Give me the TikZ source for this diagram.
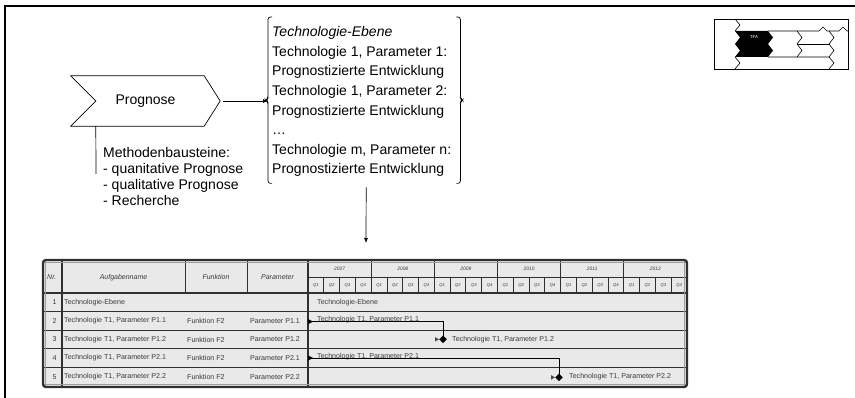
\documentclass[tikz,border=0pt]{standalone}
\usepackage{fontspec}
\setmainfont{Liberation Sans}
\usetikzlibrary{arrows.meta}
\definecolor{tablefill}{HTML}{E9E9E9}
\definecolor{rule}{HTML}{303030}
\definecolor{ink}{HTML}{3A3A3A}

\begin{document}
\begin{tikzpicture}[x=1pt,y=-1pt,
  big/.style={inner sep=0, font=\fontsize{14}{16}\selectfont},
  cell/.style={inner sep=0, text=ink, font=\fontsize{7.1}{8}\selectfont},
  headcell/.style={inner sep=0, text=ink, font=\fontsize{7}{8}\selectfont\itshape},
  yearcell/.style={inner sep=0, text=ink, font=\fontsize{4.9}{6}\selectfont\itshape},
  qcell/.style={inner sep=0, text=ink, font=\fontsize{4.2}{5}\selectfont\itshape},
  gridline/.style={draw=rule, line width=0.9},
  rowline/.style={draw=rule, line width=1.3},
  arr/.style={-{Latex[length=5pt,width=4pt]}, line width=0.7},
  thin/.style={line width=0.7},
  barline/.style={line width=0.7, black},
]
\useasboundingbox (0,0) rectangle (855,398);

% outer frame (left and top edges)
\draw[line width=1.3] (5,398) -- (5,6) -- (855,6);

% ---------- process step "Prognose" ----------
\node[big, minimum width=149, minimum height=50] (prog) at (145.5,101) {Prognose};
\draw[thin] (prog.north west) -- ([xshift=-16pt]prog.north east) -- (prog.east)
  -- ([xshift=-16pt]prog.south east) -- (prog.south west)
  -- ([xshift=25pt]prog.west) -- cycle;

% method building blocks
\coordinate (methtick) at (96,174);
\draw[thin] ([xshift=25pt]prog.south west) -- (methtick);
\node[big, anchor=north west, align=left] (meth) at (103,146.8)
  {Methodenbausteine:\\- quanitative Prognose\\- qualitative Prognose\\- Recherche};

% ---------- result list in brackets ----------
\node[inner sep=0, minimum width=192, minimum height=166, anchor=north west] (list) at (268,17) {};
\node[anchor=north west, inner sep=0, align=left, font=\fontsize{14}{19.57}\selectfont] (techtext) at (272,26.4)
  {\textit{Technologie-Ebene}\\
   Technologie 1, Parameter 1:\\
   Prognostizierte Entwicklung\\
   Technologie 1, Parameter 2:\\
   Prognostizierte Entwicklung\\
   …\\
   Technologie m, Parameter n:\\
   Prognostizierte Entwicklung};
\draw[thin, rounded corners=2.5] ([xshift=4pt]list.north west) -- (list.north west)
  -- ([yshift=2pt]list.west) -- ([xshift=-2pt]list.west) -- ([yshift=-2pt]list.west)
  -- (list.south west) -- ([xshift=4pt]list.south west);
\draw[thin, rounded corners=2.5] ([xshift=-4pt]list.north east) -- (list.north east)
  -- ([yshift=2pt]list.east) -- ([xshift=2pt]list.east) -- ([yshift=-2pt]list.east)
  -- (list.south east) -- ([xshift=-4pt]list.south east);

\draw[arr] ([xshift=3pt]prog.east) -- (prog.east -| list.west);
\coordinate (plantop) at (366,243);
\draw[arr] ([xshift=2pt,yshift=-4pt]list.south) -- (plantop);

% ---------- small navigation icon ----------
\draw[line width=0.8] (714,19) rectangle (848,69);
\fill[black] (735,31) -- (768,31) -- (773,37.5) -- (768,44) -- (735,44) -- (740,37.5) -- cycle;
\fill[black] (735,44) -- (768,44) -- (773,50.5) -- (768,57) -- (735,57) -- (740,50.5) -- cycle;
\node[inner sep=0, text=white, font=\fontsize{4.3}{5}\selectfont] (tfa) at (754,37.5) {TFA};
\draw[line width=0.6] (735,19) -- (740,25) -- (735,31);
\draw[line width=0.6] (735,57) -- (740,63) -- (735,69);
\draw[line width=0.6] (768,31) -- (819,31) -- (823,27) -- (827,31) -- (839,31) -- (843,27) -- (847,31) -- (848,31);
\draw[line width=0.6] (797,31) -- (802,37.5) -- (797,44) -- (802,50.5) -- (797,57);
\draw[line width=0.6] (829,31) -- (834,37.5) -- (829,44) -- (834,50.5) -- (829,57);
\draw[line width=0.6] (797,44) -- (829,44);
\draw[line width=0.6] (768,57) -- (829,57) -- (834,63) -- (829,69);

% ---------- project plan table ----------
\fill[tablefill, rounded corners=3] (43,260) rectangle (687,387);
% header grid
\draw[gridline] (185,260) -- (185,293);
\draw[gridline] (247,260) -- (247,293);
\draw[gridline] (308,277) -- (687,277);
\foreach \k in {1,...,5} \draw[gridline] ({308+\k*63.167},260) -- ({308+\k*63.167},293);
\foreach \i in {1,...,23} \draw[gridline] ({308+\i*15.792},277) -- ({308+\i*15.792},293);
% body grid
\draw[rowline] (62,260) -- (62,387);
\draw[rowline] (308,260) -- (308,387);
\foreach \y in {293,311.6,330.2,348.8,367.4} \draw[rowline] (43,\y) -- (687,\y);
% border
\draw[draw=rule, line width=2.4, rounded corners=3] (43,260) rectangle (687,387);
\draw[draw=gray!75, line width=0.7] (45.3,262.3) rectangle (684.7,384.7);

% header texts
\node[headcell, anchor=west] (hnr) at (47,277) {Nr.};
\node[headcell] (hname) at (123.5,278) {Aufgabenname};
\node[headcell] (hfunk) at (216,277) {Funktion};
\node[headcell] (hpar) at (277.5,277) {Parameter};
\foreach \yr [count=\k from 0] in {2007,2008,2009,2010,2011,2012} {
  \node[yearcell] (yr\k) at ({308+(\k+0.5)*63.167},268.5) {\yr};
  \foreach \q in {1,...,4}
    \node[qcell] (q\k\q) at ({308+(4*\k+\q-0.5)*15.792},285) {Q\q};
}

% body texts
\foreach \n/\y in {1/302.3,2/320.9,3/339.5,4/358.1,5/376.7}
  \node[cell] (nr\n) at (54.5,\y) {\n};
\node[cell, anchor=west] (t1) at (64,302.3) {Technologie-Ebene};
\node[cell, anchor=west] (g1) at (317,302.3) {Technologie-Ebene};
\foreach \n/\y/\p in {2/320.9/P1.1,3/339.5/P1.2,4/358.1/P2.1,5/376.7/P2.2} {
  \node[cell, anchor=west] (t\n) at (64,\y) {Technologie T1, Parameter \p};
  \node[cell, anchor=west] (f\n) at (187,\y) {Funktion F2};
  \node[cell, anchor=west] (p\n) at (250,\y) {Parameter \p};
}
\node[cell, anchor=west] (g2) at (317,319.6) {Technologie T1, Parameter P1.1};
\node[cell, anchor=west] (g3) at (452,339.3) {Technologie T1, Parameter P1.2};
\node[cell, anchor=west] (g4) at (317,356.4) {Technologie T1, Parameter P2.1};
\node[cell, anchor=west] (g5) at (569,376.8) {Technologie T1, Parameter P2.2};

% bars: start markers, links and end milestones
\coordinate (s1) at (308,321.6);
\coordinate (e1) at (443,339.3);
\coordinate (s2) at (308,358.0);
\coordinate (e2) at (559,377.4);
\draw[barline] (s1) -| (e1);
\draw[barline] (s2) -| (e2);
\foreach \s in {s1,s2}
  \fill[black] (\s) ++(0,-2.6) -- ++(5,2.6) -- ++(-5,2.6) -- cycle;
\foreach \e in {e1,e2} {
  \fill[black!70] (\e) ++(-8,-2.3) -- ++(4,2.3) -- ++(-4,2.3) -- cycle;
  \fill[black] (\e) ++(-3.8,0) -- ++(3.8,-3.8) -- ++(3.8,3.8) -- ++(-3.8,3.8) -- cycle;
}
\end{tikzpicture}
\end{document}
